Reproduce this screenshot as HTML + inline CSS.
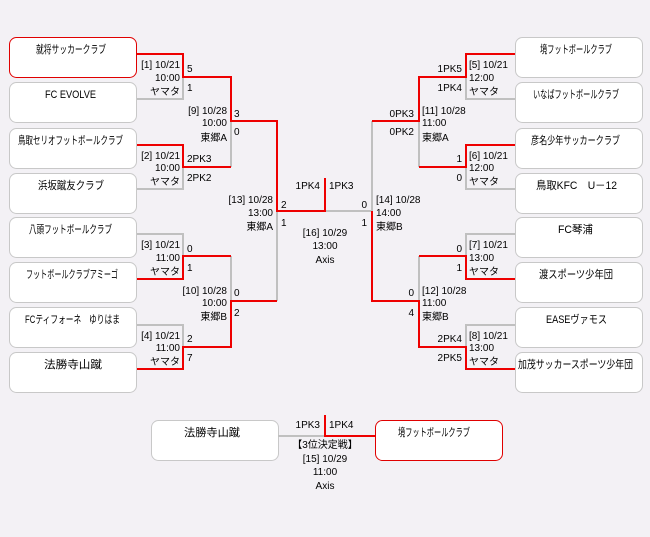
<!DOCTYPE html>
<html><head><meta charset="utf-8"><style>
html,body{margin:0;padding:0;background:#f3f1f5;}
svg{display:block;font-family:"Liberation Sans","Noto Sans CJK JP",sans-serif;}
text{font-size:10px;fill:#000;}
.t{font-size:11px;}
</style></head><body>
<svg width="650" height="537" viewBox="0 0 650 537" xmlns="http://www.w3.org/2000/svg">
<rect width="650" height="537" fill="#f3f1f5"/>
<g fill="#fff" stroke="#c8c8c8" stroke-width="1">
<rect x="9.5" y="37.5" width="127" height="40" rx="7" stroke="#e00000"/>
<rect x="9.5" y="82.5" width="127" height="40" rx="7"/>
<rect x="9.5" y="128.5" width="127" height="40" rx="7"/>
<rect x="9.5" y="173.5" width="127" height="40" rx="7"/>
<rect x="9.5" y="217.5" width="127" height="40" rx="7"/>
<rect x="9.5" y="262.5" width="127" height="40" rx="7"/>
<rect x="9.5" y="307.5" width="127" height="40" rx="7"/>
<rect x="9.5" y="352.5" width="127" height="40" rx="7"/>
<rect x="515.5" y="37.5" width="127" height="40" rx="7"/>
<rect x="515.5" y="82.5" width="127" height="40" rx="7"/>
<rect x="515.5" y="128.5" width="127" height="40" rx="7"/>
<rect x="515.5" y="173.5" width="127" height="40" rx="7"/>
<rect x="515.5" y="217.5" width="127" height="40" rx="7"/>
<rect x="515.5" y="262.5" width="127" height="40" rx="7"/>
<rect x="515.5" y="307.5" width="127" height="40" rx="7"/>
<rect x="515.5" y="352.5" width="127" height="40" rx="7"/>
<rect x="151.5" y="420.5" width="127" height="40" rx="7"/>
<rect x="375.5" y="420.5" width="127" height="40" rx="7" stroke="#e00000"/>
</g>
<g fill="none" stroke="#c0c0c0" stroke-width="2">
<polyline points="137,99 183,99 183,77"/>
<polyline points="137,189 183,189 183,167"/>
<polyline points="137,234 183,234 183,256"/>
<polyline points="137,325 183,325 183,347"/>
<polyline points="231,121 231,167"/>
<polyline points="231,256 231,301"/>
<polyline points="277,211 277,301"/>
<polyline points="325,211 372,211 372,121"/>
<polyline points="515,99 466,99 466,77"/>
<polyline points="515,189 466,189 466,167"/>
<polyline points="515,234 466,234 466,256"/>
<polyline points="515,325 466,325 466,347"/>
<polyline points="419,121 419,167"/>
<polyline points="419,256 419,301"/>
<polyline points="278,436 325,436"/>
</g>
<g fill="none" stroke="#ee0000" stroke-width="2">
<polyline points="137,54 183,54 183,77 231,77 231,121 277,121 277,211 325,211 325,178"/>
<polyline points="137,145 183,145 183,167 231,167"/>
<polyline points="137,279 183,279 183,256 231,256"/>
<polyline points="137,369 183,369 183,347 231,347 231,301 277,301"/>
<polyline points="515,54 466,54 466,77 419,77 419,121 372,121"/>
<polyline points="515,145 466,145 466,167 419,167"/>
<polyline points="515,279 466,279 466,256 419,256"/>
<polyline points="515,369 466,369 466,347 419,347 419,301 372,301 372,211"/>
<polyline points="325,415 325,436 375,436"/>
</g>
<g lengthAdjust="spacingAndGlyphs">
<text class="t" x="36" y="53" textLength="70" lengthAdjust="spacingAndGlyphs">就将サッカークラブ</text>
<text class="t" x="45" y="98" textLength="51" lengthAdjust="spacingAndGlyphs">FC EVOLVE</text>
<text class="t" x="18" y="144" textLength="105" lengthAdjust="spacingAndGlyphs">鳥取セリオフットボールクラブ</text>
<text class="t" x="38" y="189" textLength="66" lengthAdjust="spacingAndGlyphs">浜坂蹴友クラブ</text>
<text class="t" x="29" y="233" textLength="83" lengthAdjust="spacingAndGlyphs">八頭フットボールクラブ</text>
<text class="t" x="26" y="278" textLength="92" lengthAdjust="spacingAndGlyphs">フットボールクラブアミーゴ</text>
<text class="t" x="25" y="323" textLength="95" lengthAdjust="spacingAndGlyphs">FCティフォーネ　ゆりはま</text>
<text class="t" x="44" y="368" textLength="58" lengthAdjust="spacingAndGlyphs">法勝寺山蹴</text>
<text class="t" x="540" y="53" textLength="72" lengthAdjust="spacingAndGlyphs">境フットボールクラブ</text>
<text class="t" x="533" y="98" textLength="86" lengthAdjust="spacingAndGlyphs">いなばフットボールクラブ</text>
<text class="t" x="531" y="144" textLength="89" lengthAdjust="spacingAndGlyphs">彦名少年サッカークラブ</text>
<text class="t" x="536" y="189" textLength="81" lengthAdjust="spacingAndGlyphs">鳥取KFC　U－12</text>
<text class="t" x="558" y="233" textLength="35" lengthAdjust="spacingAndGlyphs">FC琴浦</text>
<text class="t" x="539" y="278" textLength="74" lengthAdjust="spacingAndGlyphs">渡スポーツ少年団</text>
<text class="t" x="546" y="323" textLength="61" lengthAdjust="spacingAndGlyphs">EASEヴァモス</text>
<text class="t" x="518" y="368" textLength="115" lengthAdjust="spacingAndGlyphs">加茂サッカースポーツ少年団</text>
<text class="t" x="184" y="436" textLength="56" lengthAdjust="spacingAndGlyphs">法勝寺山蹴</text>
<text class="t" x="398" y="436" textLength="72" lengthAdjust="spacingAndGlyphs">境フットボールクラブ</text>
</g>
<g text-anchor="end">
<text x="180" y="68">[1] 10/21</text><text x="180" y="81">10:00</text><text x="180" y="95">ヤマタ</text>
<text x="180" y="159">[2] 10/21</text><text x="180" y="171">10:00</text><text x="180" y="185">ヤマタ</text>
<text x="180" y="248">[3] 10/21</text><text x="180" y="261">11:00</text><text x="180" y="275">ヤマタ</text>
<text x="180" y="339">[4] 10/21</text><text x="180" y="351">11:00</text><text x="180" y="365">ヤマタ</text>
<text x="227" y="114">[9] 10/28</text><text x="227" y="126">10:00</text><text x="227" y="141">東郷A</text>
<text x="227" y="294">[10] 10/28</text><text x="227" y="306">10:00</text><text x="227" y="320">東郷B</text>
<text x="273" y="203">[13] 10/28</text><text x="273" y="216">13:00</text><text x="273" y="230">東郷A</text>
<text x="320" y="189">1PK4</text>
<text x="367" y="208">0</text><text x="367" y="226">1</text>
<text x="414" y="117">0PK3</text><text x="414" y="135">0PK2</text>
<text x="462" y="72">1PK5</text><text x="462" y="91">1PK4</text>
<text x="462" y="162">1</text><text x="462" y="181">0</text>
<text x="462" y="252">0</text><text x="462" y="271">1</text>
<text x="414" y="296">0</text><text x="414" y="316">4</text>
<text x="462" y="342">2PK4</text><text x="462" y="361">2PK5</text>
<text x="320" y="428">1PK3</text>
</g>
<g>
<text x="187" y="72">5</text><text x="187" y="91">1</text>
<text x="187" y="162">2PK3</text><text x="187" y="181">2PK2</text>
<text x="187" y="252">0</text><text x="187" y="271">1</text>
<text x="187" y="342">2</text><text x="187" y="361">7</text>
<text x="234" y="117">3</text><text x="234" y="135">0</text>
<text x="234" y="296">0</text><text x="234" y="316">2</text>
<text x="281" y="208">2</text><text x="281" y="226">1</text>
<text x="329" y="189">1PK3</text>
<text x="376" y="203">[14] 10/28</text><text x="376" y="216">14:00</text><text x="376" y="230">東郷B</text>
<text x="422" y="114">[11] 10/28</text><text x="422" y="126">11:00</text><text x="422" y="141">東郷A</text>
<text x="422" y="294">[12] 10/28</text><text x="422" y="306">11:00</text><text x="422" y="320">東郷B</text>
<text x="469" y="68">[5] 10/21</text><text x="469" y="81">12:00</text><text x="469" y="95">ヤマタ</text>
<text x="469" y="159">[6] 10/21</text><text x="469" y="171">12:00</text><text x="469" y="185">ヤマタ</text>
<text x="469" y="248">[7] 10/21</text><text x="469" y="261">13:00</text><text x="469" y="275">ヤマタ</text>
<text x="469" y="339">[8] 10/21</text><text x="469" y="351">13:00</text><text x="469" y="365">ヤマタ</text>
<text x="329" y="428">1PK4</text>
</g>
<g text-anchor="middle">
<text x="325" y="236">[16] 10/29</text><text x="325" y="249">13:00</text><text x="325" y="263">Axis</text>
<text x="325" y="448">【3位決定戦】</text><text x="325" y="462">[15] 10/29</text><text x="325" y="475">11:00</text><text x="325" y="489">Axis</text>
</g>
</svg>
</body></html>
